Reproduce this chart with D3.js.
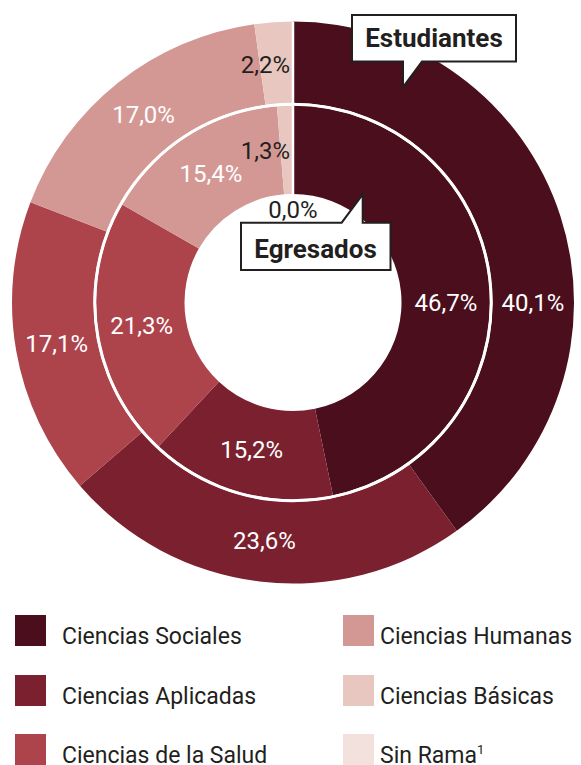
<!DOCTYPE html>
<html>
<head>
<meta charset="utf-8">
<script src="https://cdn.jsdelivr.net/npm/d3@7"></script>
<style>
  html, body { margin: 0; padding: 0; background: #fff; }
  svg { display: block; }
  text { font-family: Roboto, "Noto Sans", sans-serif; }
</style>
</head>
<body>
<svg id="chart" width="581" height="765"></svg>
<script>
// ---- data ----
const categories = ["Ciencias Sociales", "Ciencias Aplicadas", "Ciencias de la Salud",
                    "Ciencias Humanas", "Ciencias Básicas", "Sin Rama"];
const estudiantes = [40.1, 23.6, 17.1, 17.0, 2.2, null];   // outer ring
const egresados   = [46.7, 15.2, 21.3, 15.4, 1.3, 0.0];    // inner ring
const ringNames = ["Estudiantes", "Egresados"];
const colors = ["#4a0e1c", "#7b202f", "#ad444c", "#d49894", "#e8c7c0", "#f2e1dd"];
const labelColors = ["#ffffff", "#ffffff", "#ffffff", "#ffffff", "#231f20", "#231f20"];

const fmt = v => d3.format(".1f")(v).replace(".", ",") + "%";

const svg = d3.select("#chart");
const cx = 293, cy = 302.5;
const g = svg.append("g").attr("transform", `translate(${cx},${cy})`);

const color = d3.scaleOrdinal().domain(categories).range(colors);
const labelColor = d3.scaleOrdinal().domain(categories).range(labelColors);

const pie = d3.pie().sort(null).value(d => d.value || 0);

function ring(values, rIn, rOut, rLabel, cls) {
  const data = categories.map((c, i) => ({ cat: c, value: values[i] }));
  const arcs = pie(data);
  const arc = d3.arc().innerRadius(rIn).outerRadius(rOut);
  const lab = d3.arc().innerRadius(rLabel).outerRadius(rLabel);
  const grp = g.append("g").attr("class", cls);
  grp.selectAll("path").data(arcs).join("path")
    .attr("d", arc)
    .attr("fill", d => color(d.data.cat))
    .attr("stroke", d => d.data.value === 0 || d.data.value === null ? "#fff" : "none")
    .attr("stroke-width", 2.5);

  const labels = arcs.filter(d => d.data.value !== null);
  grp.selectAll("text").data(labels).join("text")
    .attr("font-size", 24)
    .attr("font-weight", 400)
    .attr("dy", "0.36em")
    .attr("fill", d => labelColor(d.data.cat))
    .each(function(d) {
      const span = d.endAngle - d.startAngle;
      let x, y, anchor = "middle";
      if (d.data.value === 0) {
        // zero slice: label just inside the hole, above the ring
        x = 0; y = -(rIn - 15);
      } else if (span > Math.PI * 0.7) {
        // very large slice: label at 3 o'clock
        x = rLabel; y = 0;
      } else if (span < Math.PI * 0.1) {
        // thin slice: right-align the label against the slice
        const c = lab.centroid(d);
        x = -3; y = c[1] + 1; anchor = "end";
      } else {
        [x, y] = lab.centroid(d);
      }
      d3.select(this).attr("x", x).attr("y", y).attr("text-anchor", anchor)
        .text(fmt(d.data.value));
    });
}

ring(estudiantes, 199.5, 281, 240, "outer");
ring(egresados, 108.5, 197, 153, "inner");

// white separator between rings
g.append("circle").attr("r", 198.2).attr("fill", "none")
  .attr("stroke", "#fff").attr("stroke-width", 3);

// ---- callouts ----
const callouts = svg.append("g");
callouts.append("path")
  .attr("d", "M352,15 H516 V61.5 H422 L403,87 V61.5 H352 Z")
  .attr("fill", "#fff").attr("stroke", "#231f20").attr("stroke-width", 2)
  .attr("stroke-linejoin", "miter");
callouts.append("text").attr("x", 434).attr("y", 47)
  .attr("text-anchor", "middle").attr("font-size", 26).attr("font-weight", 700)
  .attr("fill", "#231f20").text(ringNames[0]);

callouts.append("path")
  .attr("d", "M241,222.7 H341.7 L362.7,194.3 V222.7 H390.5 V270 H241 Z")
  .attr("fill", "#fff").attr("stroke", "#231f20").attr("stroke-width", 2)
  .attr("stroke-linejoin", "miter");
callouts.append("text").attr("x", 315.5).attr("y", 257.5)
  .attr("text-anchor", "middle").attr("font-size", 26).attr("font-weight", 700)
  .attr("fill", "#231f20").text(ringNames[1]);

// ---- legend ----
const legend = svg.append("g");
const colX = [15, 343], rowY = [615, 675, 734];
const items = legend.selectAll("g").data(categories).join("g")
  .attr("transform", (d, i) => `translate(${colX[Math.floor(i / 3)]},${rowY[i % 3]})`);
items.append("rect").attr("width", 31).attr("height", 31).attr("fill", d => color(d));
const lt = items.append("text").attr("x", (d, i) => i < 3 ? 47 : 37).attr("y", 29)
  .attr("font-size", 23).attr("fill", "#231f20");
lt.append("tspan").text(d => d);
lt.filter(d => d === "Sin Rama").append("tspan")
  .attr("font-size", 13).attr("dy", -9).text("1");
</script>
</body>
</html>
